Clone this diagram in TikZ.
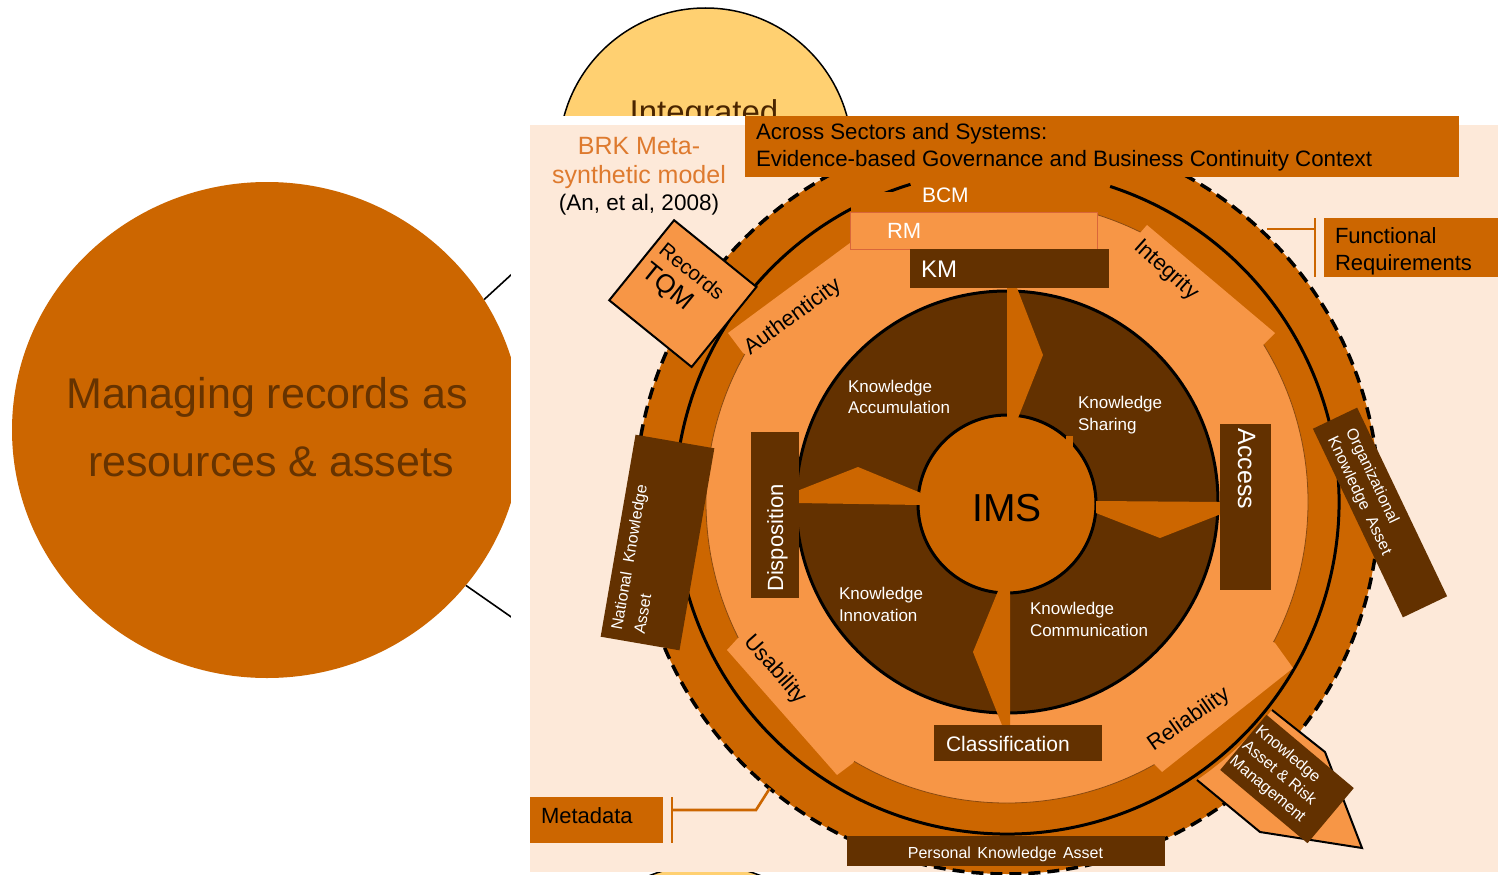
\documentclass[tikz,border=0pt]{standalone}
\usepackage{fontspec}
\setmainfont{Liberation Sans}
\usetikzlibrary{calc,shapes.geometric}
\definecolor{orng}{HTML}{CC6600}
\definecolor{lor}{HTML}{F79646}
\definecolor{dkb}{HTML}{633100}
\definecolor{pale}{HTML}{FDE9D9}
\definecolor{ylw}{HTML}{FFD071}
\definecolor{brk}{HTML}{DE7A2E}
\definecolor{thinl}{HTML}{8A4A10}
\definecolor{lefttxt}{HTML}{663300}
\definecolor{inttxt}{HTML}{4A2500}
\definecolor{rmline}{HTML}{D9663A}
\newcommand\fsz[2]{\fontsize{#1}{#2}\selectfont}
\begin{document}
\begin{tikzpicture}[x=1pt,y=-1pt,
  lbl/.style={inner sep=0pt,outer sep=0pt},
  wlbl/.style={lbl,text=white},
  blbl/.style={lbl,text=black},
  dkbox/.style={fill=dkb,draw=none,inner sep=0pt},
  orbox/.style={fill=orng,draw=none,inner sep=0pt},
  bracketline/.style={draw=orng,line width=2.6pt},
  divider/.style={fill=orng},
  band/.style={fill=lor},
  ringline/.style={draw=black,line width=3pt},
  ylwcircle/.style={circle,fill=ylw,draw=black,line width=1.5pt,inner sep=0pt}
]
\useasboundingbox (0,0) rectangle (1505,875);
\fill[white] (0,0) rectangle (1505,875);

% top yellow circle
\node[ylwcircle,minimum size=293pt] (integ) at (705.5,154.5) {};
\node[lbl,text=inttxt,font=\fsz{33}{38},anchor=base] (integT) at (704,123.5) {Integrated};

% left ellipse
\node[ellipse,fill=orng,minimum width=510pt,minimum height=496pt,inner sep=0pt] (mng) at (267,430) {};
\node[lbl,text=lefttxt,font=\fsz{43}{50},anchor=base] (mng1) at (267,408) {Managing records as};
\node[lbl,text=lefttxt,font=\fsz{43}{50},anchor=base] (mng2) at (271,476) {resources \& assets};
\coordinate (mngR1) at (560,230);
\coordinate (mngR2) at (560,651);
\draw[black,line width=1.6pt] (mng.31.4) -- (mngR1);
\draw[black,line width=1.6pt] (mng.-38.2) -- (mngR2);

% white cover and pale panel
\fill[white] (511,116) rectangle (1505,875);
\node[ylwcircle,minimum size=300pt] (integB) at (705,1015) {};
\fill[pale] (530,125) rectangle (1498,872);

% rings
\coordinate (C) at (1007,502);
\fill[orng] (C) circle[radius=372];
\draw[black,line width=3.5pt,dash pattern=on 12pt off 7pt] (C) circle[radius=372];
\draw[ringline] ([shift={(-71.9:332)}]C) arc[start angle=-71.9,end angle=253.1,radius=332];
\fill[lor] (C) circle[radius=301];
\draw[thinl,line width=0.8pt] (C) circle[radius=301];

% arrow bands
\fill[band] (743,353) -- (728,333) -- (854,240) -- (C) -- cycle;
\fill[band] (1140,233) -- (1147,225) -- (1275,333) -- (1263,345) -- (C) -- cycle;
\fill[band] (1275,643) -- (1293,668) -- (1162,772) -- (1152,762) -- (C) -- cycle;
\fill[band] (738,638) -- (727,650) -- (837,775) -- (853,763) -- (C) -- cycle;
% ring colour above the RM box
\fill[orng] (851,192) rectangle (1097,212.5);

% knowledge disk
\fill[dkb] (C) circle[radius=211];
\draw[ringline] (C) circle[radius=211];
\node[circle,fill=orng,draw=black,line width=3pt,minimum size=178pt,inner sep=0pt] (ims) at (1007,504) {};
\fill[orng] (1066,436) rectangle (1073,447);

% dividers
\fill[divider] (1007,288) -- (1017,288) -- (1043,355) -- (1018,418) -- (1007,418) -- cycle;
\fill[divider] (797,491) -- (858,467) -- (921,493) -- (921,505) -- (797,503) -- cycle;
\fill[divider] (1096,501) -- (1221,502) -- (1221,514) -- (1160,538) -- (1096,513) -- cycle;
\fill[divider] (998,591) -- (1010,591) -- (1010,725) -- (1002,725) -- (973,652) -- cycle;

\node[blbl,font=\fsz{39}{44},anchor=base] (imsT) at (1007,521) {IMS};

% quadrant labels
\node[wlbl,font=\fsz{17}{20},anchor=base west] (kaccA) at (848,392) {Knowledge};
\node[wlbl,font=\fsz{17}{20},anchor=base west] (kaccB) at (848,413) {Accumulation};
\node[wlbl,font=\fsz{17}{20},anchor=base west] (kshA) at (1078,408) {Knowledge};
\node[wlbl,font=\fsz{17}{20},anchor=base west] (kshB) at (1078,430) {Sharing};
\node[wlbl,font=\fsz{17}{20},anchor=base west] (kinA) at (839,599) {Knowledge};
\node[wlbl,font=\fsz{17}{20},anchor=base west] (kinB) at (839,621) {Innovation};
\node[wlbl,font=\fsz{17}{20},anchor=base west] (kcoA) at (1030,614) {Knowledge};
\node[wlbl,font=\fsz{17}{20},anchor=base west] (kcoB) at (1030,636) {Communication};

% band labels
\node[blbl,font=\fsz{22}{26},rotate=36] (auth) at (793,317) {Authenticity};
\node[blbl,font=\fsz{22}{26},rotate=-42] (integr) at (1166,270) {Integrity};
\node[blbl,font=\fsz{22}{26},rotate=-48.5] (usab) at (775,670) {Usability};
\node[blbl,font=\fsz{22}{26},rotate=35] (relia) at (1189,720) {Reliability};

% RM / KM / BCM
\node[fill=lor,draw=rmline,line width=0.8pt,inner sep=0pt,minimum width=247pt,minimum height=37pt,anchor=north west] (rm) at (850,212) {};
\node[wlbl,font=\fsz{22}{26},anchor=base west] (rmT) at (887,238) {RM};
\node[dkbox,minimum width=199pt,minimum height=39pt,anchor=north west] (km) at (910,249) {};
\node[wlbl,font=\fsz{24}{28},anchor=base west] (kmT) at (921,277) {KM};
\node[wlbl,font=\fsz{21}{25},anchor=base west] (bcm) at (922,202) {BCM};

% title
\node[orbox,minimum width=714pt,minimum height=61pt,anchor=north west] (title) at (745,116) {};
\node[blbl,font=\fsz{22.3}{26},anchor=base west] (title1) at (756,139) {Across Sectors and Systems:};
\node[blbl,font=\fsz{22.3}{26},anchor=base west] (title2) at (756,166) {Evidence-based Governance and Business Continuity Context};

% BRK
\node[lbl,text=brk,font=\fsz{25}{30},anchor=base] (brk1) at (639,154) {BRK Meta-};
\node[lbl,text=brk,font=\fsz{25}{30},anchor=base] (brk2) at (639,183) {synthetic model};
\node[blbl,font=\fsz{22.5}{26},anchor=base] (brk3) at (639,210) {(An, et al, 2008)};

% Functional Requirements
\node[orbox,minimum width=174pt,minimum height=59pt,anchor=north west] (func) at (1324,218) {};
\node[blbl,font=\fsz{22}{26},anchor=base west] (func1) at (1335,243) {Functional};
\node[blbl,font=\fsz{22}{26},anchor=base west] (func2) at (1335,270) {Requirements};

% Metadata
\node[orbox,minimum width=133pt,minimum height=46pt,anchor=north west] (meta) at (530,797) {};
\node[blbl,font=\fsz{22}{26},anchor=base west] (metaT) at (541,823) {Metadata};

% Disposition / Access / Classification / Personal
\node[dkbox,minimum width=48pt,minimum height=166pt,anchor=north west] (disp) at (751,432) {};
\node[wlbl,font=\fsz{22}{26},rotate=90,anchor=base] (dispT) at (783,538) {Disposition};
\node[dkbox,minimum width=51pt,minimum height=166pt,anchor=north west] (acc) at (1220,424) {};
\node[wlbl,font=\fsz{25}{30},rotate=-90,anchor=base] (accT) at (1238,469) {Access};
\node[dkbox,minimum width=168pt,minimum height=36pt,anchor=north west] (cls) at (934,725) {};
\node[wlbl,font=\fsz{21}{25},anchor=base west] (clsT) at (946,751) {Classification};
\node[dkbox,minimum width=318pt,minimum height=30pt,anchor=north west] (pka) at (847,836) {};
\node[wlbl,font=\fsz{16}{19},anchor=base] (pkaT) at (1005.5,858) {Personal\hspace{2pt} Knowledge\hspace{2pt} Asset};

% Records TQM
\begin{scope}[shift={(683,295)},rotate=-39,transform shape]
\node[fill=lor,draw=black,line width=2pt,inner sep=0pt,minimum width=106pt,minimum height=103pt] (tqm) at (-1,-1) {};
\node[blbl,font=\fsz{20.5}{24},anchor=base west] (tqm1) at (-46,-17) {Records};
\node[blbl,font=\fsz{26}{30},anchor=base west] (tqm2) at (-46,11) {TQM};
\end{scope}

% National Knowledge Asset
\begin{scope}[shift={(657.5,542.5)},rotate=80.2,transform shape]
\node[dkbox,minimum width=205pt,minimum height=80pt] (nka) at (0,0) {};
\node[wlbl,font=\fsz{16}{19},anchor=base west] (nka1) at (-93,-20) {National\hspace{5pt} Knowledge};
\node[wlbl,font=\fsz{16}{19},anchor=base west] (nka2) at (-93,3) {Asset};
\end{scope}

% Organizational Knowledge Asset
\begin{scope}[shift={(1380,512.5)},rotate=-64.5,transform shape]
\node[dkbox,minimum width=209pt,minimum height=49pt] (oka) at (0,0) {};
\node[wlbl,font=\fsz{16}{19},anchor=base west] (oka1) at (-88,-4) {Organizational};
\node[wlbl,font=\fsz{16}{19},anchor=base west] (oka2) at (-88,16) {Knowledge\hspace{5pt} Asset};
\end{scope}

% Knowledge Asset & Risk Management
\fill[lor] (1272,710) -- (1325,752) -- (1362,848) -- (1260,832) -- (1197,780) arc[start angle=55.6,end angle=38,radius=337] -- cycle;
\draw[black,line width=2pt,line join=miter] (1272,710) -- (1325,752) -- (1362,848) -- (1260,832) -- (1197,780);
\begin{scope}[shift={(1287,779)},rotate=-40,transform shape]
\node[dkbox,minimum width=114pt,minimum height=72pt] (karm) at (0,0) {};
\node[wlbl,font=\fsz{16}{19},anchor=base west] (karm1) at (-55,-15) {Knowledge};
\node[wlbl,font=\fsz{16}{19},anchor=base west] (karm2) at (-55,5) {Asset \& Risk};
\node[wlbl,font=\fsz{16}{19},anchor=base west] (karm3) at (-55,25) {Management};
\end{scope}

% brackets
\coordinate (frA) at (1267,229);
\coordinate (frB) at (1315,229);
\coordinate (frT) at (1315,218);
\coordinate (frD) at (1315,277);
\draw[bracketline] (frA) -- (frB);
\draw[bracketline] (frT) -- (frD);
\coordinate (mdT) at (672,797);
\coordinate (mdD) at (672,843);
\coordinate (mdB) at (672,810);
\coordinate (mdK) at (756,810);
\coordinate (mdA) at (770,788);
\draw[bracketline] (mdT) -- (mdD);
\draw[bracketline] (mdB) -- (mdK) -- (mdA);
\end{tikzpicture}
\end{document}
